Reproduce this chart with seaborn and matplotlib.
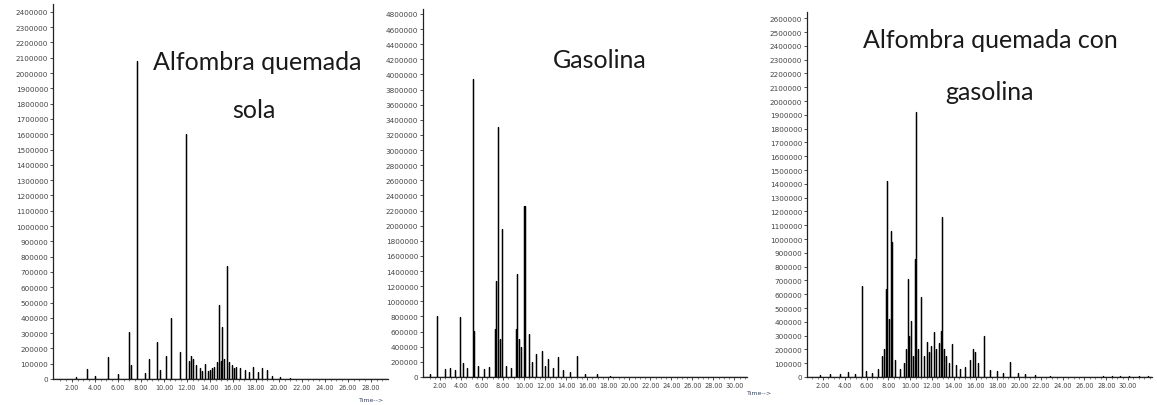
import numpy as np
import pandas as pd
import matplotlib
matplotlib.use("Agg")
import matplotlib.pyplot as plt
import seaborn as sns

# Retention times (min) and abundances of the peaks in each chromatogram
carpet_rt = [2.35, 3.30, 4.00, 5.13, 6.00, 6.96, 7.13, 7.65, 8.35, 8.70, 9.39, 9.65,
             10.17, 10.61, 11.39, 11.91, 12.17, 12.35, 12.52, 12.78, 13.13, 13.35,
             13.57, 13.80, 14.00, 14.20, 14.35, 14.61, 14.78, 14.96, 15.04, 15.22,
             15.48, 15.65, 15.91, 16.10, 16.26, 16.61, 17.04, 17.40, 17.74, 18.17,
             18.52, 18.96, 19.40, 20.09, 21.00]
carpet_ab = [10000, 65000, 20000, 144000, 30000, 307000, 90000, 2080000, 40000, 131000,
             242000, 60000, 150000, 398000, 176000, 1600000, 120000, 150000, 130000,
             90000, 70000, 55000, 100000, 50000, 60000, 75000, 80000, 110000, 484000,
             120000, 340000, 130000, 739000, 110000, 90000, 70000, 80000, 70000,
             60000, 45000, 78000, 45000, 70000, 60000, 20000, 15000, 8000]

gas_rt = [1.05, 1.71, 2.48, 2.95, 3.43, 3.90, 4.19, 4.57, 5.14, 5.24, 5.62, 6.19,
          6.67, 7.24, 7.33, 7.52, 7.71, 7.90, 8.29, 8.76, 9.24, 9.33, 9.52, 9.71,
          10.00, 10.10, 10.48, 10.76, 11.14, 11.71, 12.00, 12.29, 12.76, 13.24,
          13.71, 14.38, 15.05, 15.81, 16.95, 18.19]
gas_ab = [40000, 808000, 100000, 120000, 90000, 795000, 180000, 120000, 3947000,
          609000, 150000, 100000, 130000, 636000, 1271000, 3311000, 500000, 1960000,
          150000, 120000, 636000, 1364000, 500000, 400000, 2265000, 2265000, 570000,
          200000, 305000, 344000, 150000, 238000, 120000, 265000, 90000, 60000,
          278000, 40000, 45000, 15000]

mix_rt = [1.72, 2.64, 3.56, 4.29, 4.94, 5.58, 5.94, 6.50, 7.05, 7.41, 7.60, 7.78,
          7.87, 8.06, 8.24, 8.33, 8.61, 9.06, 9.43, 9.61, 9.80, 9.89, 10.07, 10.26,
          10.44, 10.53, 10.72, 11.00, 11.27, 11.54, 11.72, 11.91, 12.18, 12.37,
          12.64, 12.83, 12.92, 13.10, 13.28, 13.56, 13.83, 14.20, 14.57, 15.03,
          15.49, 15.76, 15.94, 16.22, 16.77, 17.32, 17.96, 18.51, 19.16, 19.89,
          20.53, 21.45, 22.83, 27.70, 28.50, 29.30, 30.10, 31.00, 31.80]
mix_ab = [15000, 25000, 20000, 35000, 20000, 659000, 40000, 30000, 60000, 150000,
          200000, 638000, 1420000, 420000, 1058000, 978000, 120000, 60000, 100000,
          203000, 710000, 300000, 406000, 150000, 855000, 1920000, 200000, 580000,
          150000, 254000, 180000, 225000, 326000, 200000, 250000, 333000, 1160000,
          200000, 152000, 100000, 239000, 90000, 60000, 70000, 120000, 203000,
          181000, 100000, 297000, 50000, 40000, 30000, 109000, 30000, 20000, 15000,
          10000, 8000, 9000, 8000, 9000, 8000, 9000]

carpet_yticks = list(range(0, 2400001, 100000))
gas_yticks = list(range(0, 4800001, 200000))
mix_yticks = list(range(0, 2600001, 100000))
carpet_xticks = list(range(2, 29, 2))
gas_xticks = list(range(2, 31, 2))
mix_xticks = list(range(2, 31, 2))

W, H = 1157, 406
sns.set_theme(style="white")
plt.rcParams["font.family"] = ["Lato", "DejaVu Sans"]

fig = plt.figure(figsize=(W / 100, H / 100), dpi=100)


def px_axes(left, right, top, bottom):
    return fig.add_axes([left / W, 1 - bottom / H, (right - left) / W, (bottom - top) / H])


def stem_frame(rt, ab, x0, x1):
    xs, ys = [x0], [0.0]
    for t, a in sorted(zip(rt, ab)):
        xs += [t, t, t]
        ys += [0.0, a, 0.0]
    xs.append(x1)
    ys.append(0.0)
    return pd.DataFrame({"rt": xs, "abundance": ys})


panels = [
    dict(rt=carpet_rt, ab=carpet_ab, box=(53, 388, 5, 380), xlim=(0.35, 29.5),
         ylim=2451000, yticks=carpet_yticks, xticks=carpet_xticks),
    dict(rt=gas_rt, ab=gas_ab, box=(423, 747, 10, 378), xlim=(0.38, 31.2),
         ylim=4866000, yticks=gas_yticks, xticks=gas_xticks),
    dict(rt=mix_rt, ab=mix_ab, box=(807, 1152, 13, 378), xlim=(0.53, 32.2),
         ylim=2645000, yticks=mix_yticks, xticks=mix_xticks),
]

tick_font = dict(family="DejaVu Sans")
for p in panels:
    ax = px_axes(*p["box"])
    df = stem_frame(p["rt"], p["ab"], *p["xlim"])
    sns.lineplot(data=df, x="rt", y="abundance", sort=False, estimator=None,
                 color="black", lw=0.9, ax=ax)
    ax.set_xlim(*p["xlim"])
    ax.set_ylim(0, p["ylim"])
    ax.set_xticks(p["xticks"])
    ax.set_xticklabels([f"{v:.2f}" for v in p["xticks"]], fontdict=tick_font)
    ax.set_xticks(np.arange(1, p["xlim"][1], 0.5), minor=True)
    ax.set_yticks(p["yticks"])
    ax.set_yticklabels([str(v) for v in p["yticks"]], fontdict=tick_font)
    ax.set_xlabel("")
    ax.set_ylabel("")
    for s in ("top", "right"):
        ax.spines[s].set_visible(False)
    for s in ("left", "bottom"):
        ax.spines[s].set_color("#222222")
        ax.spines[s].set_linewidth(0.9)
    ax.tick_params(axis="both", which="major", labelcolor="#444444",
                   length=2, width=0.6, color="#333333", pad=1.5, left=True, bottom=True)
    ax.tick_params(axis="y", which="major", labelsize=5.2)
    ax.tick_params(axis="x", which="major", labelsize=4.7)
    ax.tick_params(axis="x", which="minor", length=1.5, width=0.5, color="#555555",
                   bottom=True)
    ax.patch.set_alpha(0)

# Panel titles
title_kw = dict(fontsize=18, color="#1a1a1a", ha="center", va="baseline")
fig.text(257 / W, 1 - 70 / H, "Alfombra quemada", **title_kw)
fig.text(254 / W, 1 - 118 / H, "sola", **title_kw)
fig.text(600 / W, 1 - 68 / H, "Gasolina", **title_kw)
fig.text(990 / W, 1 - 48 / H, "Alfombra quemada con", **title_kw)
fig.text(990 / W, 1 - 100 / H, "gasolina", **title_kw)

# Time axis captions
fig.text(372 / W, 1 - 401 / H, "Time-->", fontsize=4.5, color="#334466", ha="center",
         va="center", family="DejaVu Sans")
fig.text(760 / W, 1 - 394 / H, "Time-->", fontsize=4.5, color="#334466", ha="center",
         va="center", family="DejaVu Sans")

fig.savefig("out.png", dpi=100, facecolor="white")
